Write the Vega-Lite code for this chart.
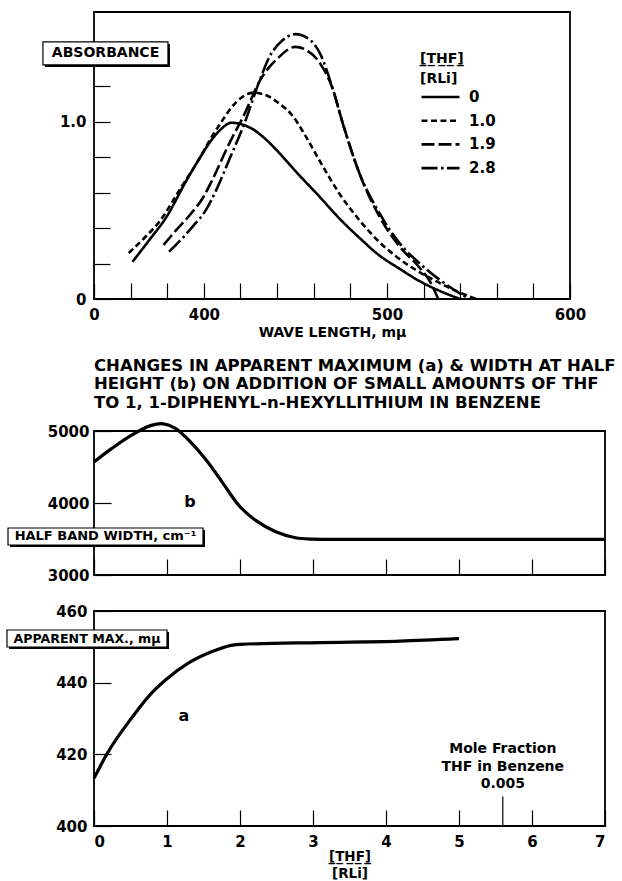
{
  "$schema": "https://vega.github.io/schema/vega-lite/v6.json",
  "padding": {"left": 5, "top": 11, "right": 2, "bottom": 0},
  "background": "white",
  "config": {
    "font": "DejaVu Sans",
    "view": {"stroke": "black", "strokeWidth": 1.8},
    "axis": {"domain": false, "grid": false, "tickColor": "black", "tickWidth": 1.2, "labelColor": "black", "labelFont": "DejaVu Sans", "labelFontSize": 15, "labelFontWeight": "bold", "labelOverlap": false, "titleFont": "DejaVu Sans", "titleFontWeight": "bold", "titleFontSize": 14, "titleColor": "black"},
    "legend": {"titleFont": "DejaVu Sans", "labelFont": "DejaVu Sans", "titleFontWeight": "bold", "labelFontWeight": "bold", "titleColor": "black", "labelColor": "black"},
    "title": {"font": "DejaVu Sans", "fontWeight": "bold", "color": "black"},
    "text": {"font": "DejaVu Sans", "fontWeight": "bold"}
  },
  "datasets": {
    "spectra": [
      {"wl": 361, "A": 0.21, "thf": "0"}, {"wl": 370, "A": 0.33, "thf": "0"}, {"wl": 380, "A": 0.47, "thf": "0"}, {"wl": 390, "A": 0.66, "thf": "0"}, {"wl": 398, "A": 0.8, "thf": "0"}, {"wl": 404, "A": 0.895, "thf": "0"}, {"wl": 409, "A": 0.955, "thf": "0"}, {"wl": 415, "A": 0.995, "thf": "0"}, {"wl": 421, "A": 0.985, "thf": "0"}, {"wl": 428, "A": 0.95, "thf": "0"}, {"wl": 435, "A": 0.89, "thf": "0"}, {"wl": 442, "A": 0.815, "thf": "0"}, {"wl": 452, "A": 0.7, "thf": "0"}, {"wl": 463, "A": 0.58, "thf": "0"}, {"wl": 474, "A": 0.455, "thf": "0"}, {"wl": 485, "A": 0.345, "thf": "0"}, {"wl": 496, "A": 0.245, "thf": "0"}, {"wl": 507, "A": 0.17, "thf": "0"}, {"wl": 518, "A": 0.1, "thf": "0"}, {"wl": 529, "A": 0.045, "thf": "0"}, {"wl": 540, "A": 0.0, "thf": "0"},
      {"wl": 359, "A": 0.26, "thf": "1.0"}, {"wl": 368, "A": 0.35, "thf": "1.0"}, {"wl": 376, "A": 0.44, "thf": "1.0"}, {"wl": 387, "A": 0.62, "thf": "1.0"}, {"wl": 398, "A": 0.8, "thf": "1.0"}, {"wl": 404, "A": 0.91, "thf": "1.0"}, {"wl": 409, "A": 0.99, "thf": "1.0"}, {"wl": 415, "A": 1.08, "thf": "1.0"}, {"wl": 421, "A": 1.14, "thf": "1.0"}, {"wl": 427, "A": 1.165, "thf": "1.0"}, {"wl": 434, "A": 1.15, "thf": "1.0"}, {"wl": 441, "A": 1.105, "thf": "1.0"}, {"wl": 448, "A": 1.04, "thf": "1.0"}, {"wl": 455, "A": 0.93, "thf": "1.0"}, {"wl": 463, "A": 0.785, "thf": "1.0"}, {"wl": 474, "A": 0.596, "thf": "1.0"}, {"wl": 485, "A": 0.445, "thf": "1.0"}, {"wl": 496, "A": 0.32, "thf": "1.0"}, {"wl": 507, "A": 0.225, "thf": "1.0"}, {"wl": 518, "A": 0.15, "thf": "1.0"}, {"wl": 529, "A": 0.09, "thf": "1.0"}, {"wl": 540, "A": 0.035, "thf": "1.0"}, {"wl": 549, "A": 0.0, "thf": "1.0"},
      {"wl": 378, "A": 0.305, "thf": "1.9"}, {"wl": 385, "A": 0.39, "thf": "1.9"}, {"wl": 392, "A": 0.47, "thf": "1.9"}, {"wl": 400, "A": 0.58, "thf": "1.9"}, {"wl": 405, "A": 0.68, "thf": "1.9"}, {"wl": 413.5, "A": 0.87, "thf": "1.9"}, {"wl": 422, "A": 1.04, "thf": "1.9"}, {"wl": 431, "A": 1.24, "thf": "1.9"}, {"wl": 440, "A": 1.355, "thf": "1.9"}, {"wl": 450, "A": 1.423, "thf": "1.9"}, {"wl": 456, "A": 1.405, "thf": "1.9"}, {"wl": 463.5, "A": 1.33, "thf": "1.9"}, {"wl": 470, "A": 1.197, "thf": "1.9"}, {"wl": 476.5, "A": 0.97, "thf": "1.9"}, {"wl": 485, "A": 0.709, "thf": "1.9"}, {"wl": 496, "A": 0.464, "thf": "1.9"}, {"wl": 507, "A": 0.295, "thf": "1.9"}, {"wl": 518, "A": 0.175, "thf": "1.9"}, {"wl": 524, "A": 0.09, "thf": "1.9"}, {"wl": 528, "A": 0.0, "thf": "1.9"},
      {"wl": 381, "A": 0.267, "thf": "2.8"}, {"wl": 388, "A": 0.34, "thf": "2.8"}, {"wl": 394, "A": 0.41, "thf": "2.8"}, {"wl": 401, "A": 0.5, "thf": "2.8"}, {"wl": 407, "A": 0.62, "thf": "2.8"}, {"wl": 414, "A": 0.79, "thf": "2.8"}, {"wl": 422.5, "A": 1.0, "thf": "2.8"}, {"wl": 430, "A": 1.22, "thf": "2.8"}, {"wl": 436, "A": 1.37, "thf": "2.8"}, {"wl": 443, "A": 1.46, "thf": "2.8"}, {"wl": 450, "A": 1.495, "thf": "2.8"}, {"wl": 457, "A": 1.47, "thf": "2.8"}, {"wl": 463.5, "A": 1.385, "thf": "2.8"}, {"wl": 470, "A": 1.2, "thf": "2.8"}, {"wl": 476.5, "A": 0.97, "thf": "2.8"}, {"wl": 485, "A": 0.709, "thf": "2.8"}, {"wl": 496, "A": 0.483, "thf": "2.8"}, {"wl": 507, "A": 0.314, "thf": "2.8"}, {"wl": 518, "A": 0.2, "thf": "2.8"}, {"wl": 529, "A": 0.107, "thf": "2.8"}, {"wl": 540, "A": 0.03, "thf": "2.8"}, {"wl": 545, "A": 0.0, "thf": "2.8"}
    ],
    "halfwidth": [
      {"r": 0, "w": 4570}, {"r": 0.24, "w": 4755}, {"r": 0.51, "w": 4940}, {"r": 0.785, "w": 5078}, {"r": 0.95, "w": 5100}, {"r": 1.11, "w": 5040}, {"r": 1.33, "w": 4840}, {"r": 1.55, "w": 4580}, {"r": 1.77, "w": 4270}, {"r": 1.99, "w": 3960}, {"r": 2.21, "w": 3762}, {"r": 2.49, "w": 3600}, {"r": 2.76, "w": 3517}, {"r": 3.0, "w": 3497}, {"r": 3.3, "w": 3495}, {"r": 4, "w": 3495}, {"r": 5, "w": 3495}, {"r": 6, "w": 3495}, {"r": 7, "w": 3495}
    ],
    "apparent": [
      {"r": 0, "m": 413.3}, {"r": 0.18, "m": 420.2}, {"r": 0.51, "m": 430}, {"r": 0.785, "m": 437}, {"r": 1.0, "m": 441.1}, {"r": 1.28, "m": 445.3}, {"r": 1.61, "m": 448.6}, {"r": 1.88, "m": 450.4}, {"r": 2.0, "m": 450.7}, {"r": 3.09, "m": 451.2}, {"r": 4.19, "m": 451.6}, {"r": 5.0, "m": 452.3}
    ]
  },
  "bounds": "flush",
  "spacing": 132,
  "vconcat": [
    {
      "width": 476,
      "height": 287,
      "layer": [
        {
          "data": {"name": "spectra"},
          "mark": {"type": "line", "interpolate": "monotone", "strokeWidth": 2.6, "color": "black"},
          "encoding": {
            "x": {"field": "wl", "type": "quantitative", "scale": {"domain": [340, 600], "nice": false, "zero": false},
                  "axis": {"values": [340, 360, 380, 400, 420, 440, 460, 480, 500, 520, 540, 560, 580, 600], "tickCount": 30, "labelExpr": "datum.value == 340 ? '0' : (datum.value % 100 == 0 ? format(datum.value, 'd') : '')", "labelOverlap": false, "labelFlush": false, "title": "WAVE LENGTH, mμ", "tickSize": -16, "labelPadding": 24, "titlePadding": 3}},
            "y": {"field": "A", "type": "quantitative", "scale": {"domain": [0, 1.62], "nice": false},
                  "axis": {"values": [0, 0.2, 0.4, 0.6, 0.8, 1, 1.2], "tickCount": 20, "labelExpr": "datum.value == 0 ? '0' : (datum.value == 1 ? '1.0' : '')", "labelOverlap": false, "title": null, "tickSize": -16, "labelPadding": 24}},
            "strokeDash": {"field": "thf", "type": "nominal",
                  "scale": {"domain": ["0", "1.0", "1.9", "2.8"], "range": [[1, 0], [6, 3.5], [13, 4], [16, 3.5, 2.5, 3.5]]},
                  "legend": {"orient": "none", "legendX": 326, "legendY": 40, "title": ["[̲T̲H̲F̲]̲", "[RLi]"], "titleFontSize": 14, "titleLineHeight": 20, "titlePadding": 0, "labelFontSize": 15, "symbolType": "M-1,0H3", "symbolSize": 361, "symbolStrokeWidth": 2.6, "symbolStrokeColor": "black", "symbolFillColor": "transparent", "labelOffset": 27, "rowPadding": 4.7}}
          }
        },
        {
          "data": {"values": [{"x1": 312.1, "x2": 380.4, "y1": 1.451, "y2": 1.321}]},
          "mark": {"type": "rect", "fill": "black", "xOffset": 2, "x2Offset": 2, "yOffset": 2, "y2Offset": 2},
          "encoding": {"x": {"field": "x1", "type": "quantitative"}, "x2": {"field": "x2"}, "y": {"field": "y1", "type": "quantitative"}, "y2": {"field": "y2"}}
        },
        {
          "data": {"values": [{"x1": 312.1, "x2": 380.4, "y1": 1.451, "y2": 1.321}]},
          "mark": {"type": "rect", "fill": "white", "stroke": "black", "strokeWidth": 1.2},
          "encoding": {"x": {"field": "x1", "type": "quantitative"}, "x2": {"field": "x2"}, "y": {"field": "y1", "type": "quantitative"}, "y2": {"field": "y2"}}
        },
        {
          "data": {"values": [{"x": 346.3, "y": 1.386, "t": "ABSORBANCE"}]},
          "mark": {"type": "text", "fontSize": 14, "color": "black", "baseline": "middle", "align": "center"},
          "encoding": {"x": {"field": "x", "type": "quantitative"}, "y": {"field": "y", "type": "quantitative"}, "text": {"field": "t"}}
        }
      ]
    },
    {
      "bounds": "flush",
      "spacing": 36,
      "vconcat": [
        {
          "width": 511,
          "height": 144,
          "title": {"text": ["CHANGES IN APPARENT MAXIMUM (a) & WIDTH AT HALF", "HEIGHT (b) ON ADDITION OF SMALL AMOUNTS OF THF", "TO 1, 1-DIPHENYL-n-HEXYLLITHIUM  IN BENZENE"], "anchor": "start", "frame": "group", "fontSize": 16.5, "lineHeight": 18.3, "offset": 6},
          "layer": [
            {
              "data": {"name": "halfwidth"},
              "mark": {"type": "line", "interpolate": "catmull-rom", "strokeWidth": 3.2, "color": "black"},
              "encoding": {
                "x": {"field": "r", "type": "quantitative", "scale": {"domain": [0, 7], "nice": false},
                      "axis": {"values": [0, 1, 2, 3, 4, 5, 6, 7], "tickCount": 20, "labels": false, "title": null, "tickSize": -16}},
                "y": {"field": "w", "type": "quantitative", "scale": {"domain": [3000, 5000], "nice": false, "zero": false},
                      "axis": {"values": [3000, 4000, 5000], "format": "d", "title": null, "tickSize": -17, "labelPadding": 22}}
              }
            },
            {
              "data": {"values": [{"x1": -1.178, "x2": 1.493, "y1": 3653, "y2": 3417}]},
              "mark": {"type": "rect", "fill": "black", "xOffset": 2, "x2Offset": 2, "yOffset": 2, "y2Offset": 2},
              "encoding": {"x": {"field": "x1", "type": "quantitative"}, "x2": {"field": "x2"}, "y": {"field": "y1", "type": "quantitative"}, "y2": {"field": "y2"}}
            },
            {
              "data": {"values": [{"x1": -1.178, "x2": 1.493, "y1": 3653, "y2": 3417}]},
              "mark": {"type": "rect", "fill": "white", "stroke": "black", "strokeWidth": 1.2},
              "encoding": {"x": {"field": "x1", "type": "quantitative"}, "x2": {"field": "x2"}, "y": {"field": "y1", "type": "quantitative"}, "y2": {"field": "y2"}}
            },
            {
              "data": {"values": [{"x": 0.158, "y": 3535, "t": "HALF BAND WIDTH, cm⁻¹"}]},
              "mark": {"type": "text", "fontSize": 13, "color": "black", "baseline": "middle", "align": "center"},
              "encoding": {"x": {"field": "x", "type": "quantitative"}, "y": {"field": "y", "type": "quantitative"}, "text": {"field": "t"}}
            },
            {
              "data": {"values": [{"x": 1.315, "y": 4018, "t": "b"}]},
              "mark": {"type": "text", "fontSize": 16, "color": "black", "baseline": "middle", "align": "center"},
              "encoding": {"x": {"field": "x", "type": "quantitative"}, "y": {"field": "y", "type": "quantitative"}, "text": {"field": "t"}}
            }
          ]
        },
        {
          "width": 511,
          "height": 215,
          "layer": [
            {
              "data": {"name": "apparent"},
              "mark": {"type": "line", "interpolate": "monotone", "strokeWidth": 3.2, "color": "black"},
              "encoding": {
                "x": {"field": "r", "type": "quantitative", "scale": {"domain": [0, 7], "nice": false},
                      "axis": {"values": [0, 1, 2, 3, 4, 5, 6, 7], "tickCount": 20, "format": "d", "labelOverlap": false, "title": ["[̲T̲H̲F̲]̲", "[RLi]"], "titleFontSize": 13.5, "titleLineHeight": 17, "tickSize": -16, "labelPadding": 24, "titlePadding": 0}},
                "y": {"field": "m", "type": "quantitative", "scale": {"domain": [400, 460], "nice": false, "zero": false},
                      "axis": {"values": [400, 420, 440, 460], "format": "d", "title": null, "tickSize": -17, "labelPadding": 24}}
              }
            },
            {
              "data": {"values": [{"x": 5.6, "y1": 400, "y2": 408.2}]},
              "mark": {"type": "rule", "color": "black", "strokeWidth": 1.2},
              "encoding": {"x": {"field": "x", "type": "quantitative"}, "y": {"field": "y1", "type": "quantitative"}, "y2": {"field": "y2"}}
            },
            {
              "data": {"values": [{"x1": -1.192, "x2": 1.0, "y1": 454.7, "y2": 449.95}]},
              "mark": {"type": "rect", "fill": "black", "xOffset": 2, "x2Offset": 2, "yOffset": 2, "y2Offset": 2},
              "encoding": {"x": {"field": "x1", "type": "quantitative"}, "x2": {"field": "x2"}, "y": {"field": "y1", "type": "quantitative"}, "y2": {"field": "y2"}}
            },
            {
              "data": {"values": [{"x1": -1.192, "x2": 1.0, "y1": 454.7, "y2": 449.95}]},
              "mark": {"type": "rect", "fill": "white", "stroke": "black", "strokeWidth": 1.2},
              "encoding": {"x": {"field": "x1", "type": "quantitative"}, "x2": {"field": "x2"}, "y": {"field": "y1", "type": "quantitative"}, "y2": {"field": "y2"}}
            },
            {
              "data": {"values": [{"x": -0.096, "y": 452.3, "t": "APPARENT MAX., mμ"}]},
              "mark": {"type": "text", "fontSize": 12.6, "color": "black", "baseline": "middle", "align": "center"},
              "encoding": {"x": {"field": "x", "type": "quantitative"}, "y": {"field": "y", "type": "quantitative"}, "text": {"field": "t"}}
            },
            {
              "data": {"values": [{"x": 1.23, "y": 430.7, "t": "a"}]},
              "mark": {"type": "text", "fontSize": 16, "color": "black", "baseline": "middle", "align": "center"},
              "encoding": {"x": {"field": "x", "type": "quantitative"}, "y": {"field": "y", "type": "quantitative"}, "text": {"field": "t"}}
            },
            {
              "data": {"values": [{"x": 5.6, "y": 421.4, "t": "Mole Fraction"}, {"x": 5.6, "y": 416.5, "t": "THF in Benzene"}, {"x": 5.6, "y": 411.6, "t": "0.005"}]},
              "mark": {"type": "text", "fontSize": 14, "color": "black", "baseline": "middle", "align": "center"},
              "encoding": {"x": {"field": "x", "type": "quantitative"}, "y": {"field": "y", "type": "quantitative"}, "text": {"field": "t"}}
            }
          ]
        }
      ]
    }
  ]
}
